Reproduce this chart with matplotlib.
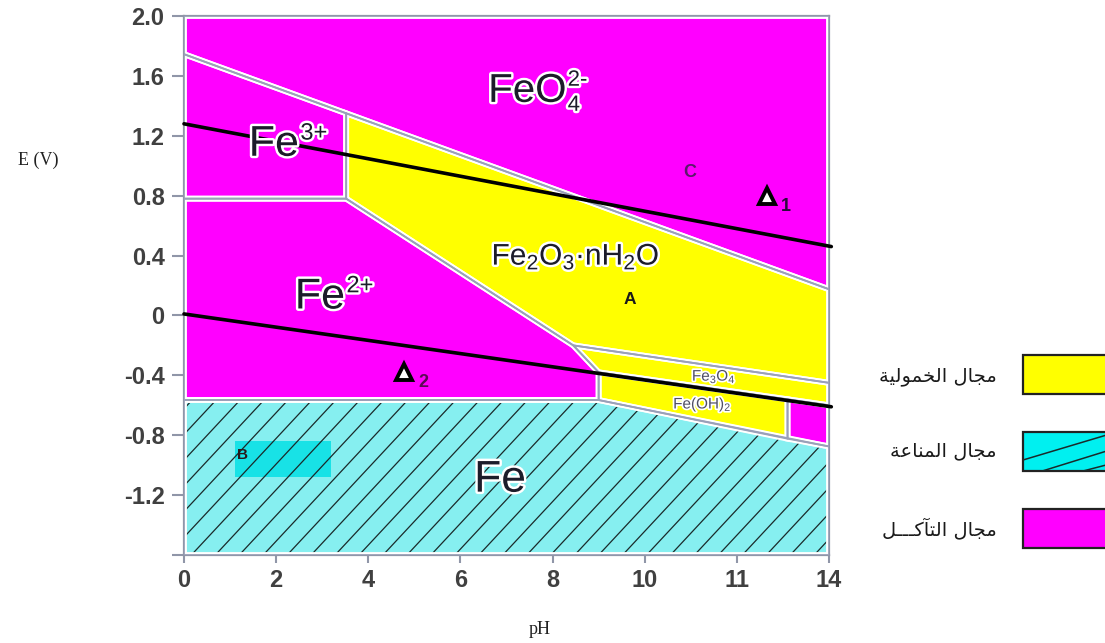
import numpy as np
import matplotlib
matplotlib.use("Agg")
import matplotlib.pyplot as plt
from matplotlib.patches import Polygon, Rectangle
from matplotlib.lines import Line2D
import matplotlib.patheffects as pe

plt.rcParams['mathtext.fontset'] = 'custom'
plt.rcParams['mathtext.rm'] = 'Liberation Sans'
plt.rcParams['mathtext.it'] = 'Liberation Sans'
plt.rcParams['mathtext.bf'] = 'Liberation Sans:bold'

# ---------------- data ----------------
ph_ticks = [0, 2, 4, 6, 8, 10, 12, 14]
ph_tick_labels = ['0', '2', '4', '6', '8', '10', '11', '14']
e_ticks = [2.0, 1.6, 1.2, 0.8, 0.4, 0.0, -0.4, -0.8, -1.2, -1.6]
e_tick_labels = ['2.0', '1.6', '1.2', '0.8', '0.4', '0', '-0.4', '-0.8', '-1.2', '']

# region polygons (pH, E)
feo4_region = [(0, 2.0), (14, 2.0), (14, 0.175), (0, 1.745)]
fe3_region = [(0, 1.745), (3.52, 1.35), (3.52, 0.78), (0, 0.78)]
fe2o3_region = [(3.52, 1.35), (14, 0.175), (14, -0.45), (8.45, -0.20), (3.52, 0.78)]
fe2_region = [(0, 0.78), (3.52, 0.78), (8.45, -0.20), (9.0, -0.38), (9.0, -0.565), (0, -0.565)]
fe3o4_region = [(8.45, -0.20), (14, -0.45), (14, -0.60), (9.0, -0.38)]
feoh2_region = [(9.0, -0.38), (13.1, -0.56), (13.1, -0.823), (9.0, -0.565)]
hfeo2_region = [(13.1, -0.56), (14, -0.60), (14, -0.875), (13.1, -0.823)]
fe_region = [(0, -0.565), (9.0, -0.565), (14, -0.875), (14, -1.6), (0, -1.6)]
b_box = [(1.1, -0.84), (3.2, -0.84), (3.2, -1.08), (1.1, -1.08)]

# water stability lines
water_ph = [0, 14.05]
water_upper = [1.28, 0.46]
water_lower = [0.01, -0.61]

# points
delta_ph = [12.65, 4.78]
delta_e = [0.80, -0.375]
delta_sub = ['1', '2']

legend_labels = ['مجال الخمولية', 'مجال المناعة', 'مجال التآكـــل']

# ---------------- helpers ----------------
_forms = {
    'ا': (0xFE8D, 0xFE8E, None, None),
    'آ': (0xFE81, 0xFE82, None, None),
    'ت': (0xFE95, 0xFE96, 0xFE97, 0xFE98),
    'ة': (0xFE93, 0xFE94, None, None),
    'ج': (0xFE9D, 0xFE9E, 0xFE9F, 0xFEA0),
    'خ': (0xFEA5, 0xFEA6, 0xFEA7, 0xFEA8),
    'ع': (0xFEC9, 0xFECA, 0xFECB, 0xFECC),
    'ك': (0xFED9, 0xFEDA, 0xFEDB, 0xFEDC),
    'ل': (0xFEDD, 0xFEDE, 0xFEDF, 0xFEE0),
    'م': (0xFEE1, 0xFEE2, 0xFEE3, 0xFEE4),
    'ن': (0xFEE5, 0xFEE6, 0xFEE7, 0xFEE8),
    'و': (0xFEED, 0xFEEE, None, None),
    'ي': (0xFEF1, 0xFEF2, 0xFEF3, 0xFEF4),
}
TATWEEL = 'ـ'


def _dual(c):
    return c == TATWEEL or (c in _forms and _forms[c][2] is not None)


def _joining(c):
    return c == TATWEEL or c in _forms


def shape_arabic(s):
    out = []
    for i, c in enumerate(s):
        if c not in _forms:
            out.append(c)
            continue
        prev = s[i - 1] if i > 0 else ''
        nxt = s[i + 1] if i + 1 < len(s) else ''
        jp = prev != '' and _dual(prev)
        jn = _forms[c][2] is not None and nxt != '' and _joining(nxt)
        iso, fin, ini, med = _forms[c]
        if jp and jn:
            code = med
        elif jp:
            code = fin
        elif jn:
            code = ini
        else:
            code = iso
        out.append(chr(code))
    return ''.join(reversed(out))


# ---------------- figure ----------------
fig = plt.figure(figsize=(11.05, 6.43), dpi=100)
ax = fig.add_axes([184 / 1105, 1 - 555 / 643, (829 - 184) / 1105, (555 - 16) / 643])
ax.set_xlim(0, 14)
ax.set_ylim(-1.6, 2.0)

MAG = '#ff00ff'
YEL = '#ffff00'
CYAN = '#86eff0'

regions = [
    (feo4_region, MAG), (fe3_region, MAG), (fe2o3_region, YEL), (fe2_region, MAG),
    (fe3o4_region, YEL), (feoh2_region, YEL), (hfeo2_region, MAG), (fe_region, CYAN),
]
for verts, col in regions:
    ax.add_patch(Polygon(verts, closed=True, facecolor=col, edgecolor='none', zorder=1))

ax.add_patch(Polygon(b_box, closed=True, facecolor='#18e2e6', edgecolor='none', zorder=1.5))

# hatch for Fe (immunity) region
fe_patch = Polygon(fe_region, closed=True, facecolor='none', edgecolor='none', transform=ax.transData)
ax.add_patch(fe_patch)
slope = 0.33
for x0 in np.arange(-4.0, 14.5, 0.52):
    ln, = ax.plot([x0, x0 + 2.2 / slope], [-1.6, 0.6], color='#1a2a2a', lw=0.9, zorder=2)
    ln.set_clip_path(fe_patch)

# boundaries
for verts, col in regions:
    ax.add_patch(Polygon(verts, closed=True, facecolor='none', edgecolor='white', lw=4.2, zorder=3))
for verts, col in regions:
    ax.add_patch(Polygon(verts, closed=True, facecolor='none', edgecolor='#9aa0b8', lw=1.3, zorder=3.1))

# water lines
ax.plot(water_ph, water_upper, color='black', lw=2.6, zorder=5, clip_on=False, solid_capstyle='round')
ax.plot(water_ph, water_lower, color='black', lw=2.6, zorder=5, clip_on=False, solid_capstyle='round')

# triangles
ax.plot(delta_ph, delta_e, linestyle='none', marker='^', ms=12, mfc='white', mec='black', mew=2.8, zorder=6)
sub_offsets = [(0.42, -0.07), (0.42, -0.075)]
for px, py, s, (dx, dy), c in zip(delta_ph, delta_e, delta_sub, sub_offsets, ['#2a0a3a', '#5a0a55']):
    ax.text(px + dx, py + dy, s, fontsize=13, fontweight='bold', color=c,
            family='Liberation Sans', ha='center', va='center', zorder=6)

# labels
stroke = [pe.withStroke(linewidth=3.5, foreground='white')]
big = dict(family='Liberation Sans', color='#1c1c2a', zorder=7, path_effects=stroke)


def ion_label(x, y, base, size, sup=None, sub=None):
    t = ax.text(x, y, base, fontsize=size, ha='center', va='center', **big)
    if sup:
        ax.annotate(sup, xy=(1.0, 0.78), xycoords=t, xytext=(1, 0), textcoords='offset points',
                    fontsize=size * 0.55, ha='left', va='center', **big)
    if sub:
        ax.annotate(sub, xy=(1.0, 0.12), xycoords=t, xytext=(1, 0), textcoords='offset points',
                    fontsize=size * 0.55, ha='left', va='center', **big)
    return t


ion_label(7.45, 1.50, 'FeO', 29, sup='2-', sub='4')
ion_label(1.95, 1.14, 'Fe', 31, sup='3+')
ion_label(2.95, 0.12, 'Fe', 31, sup='2+')
ion_label(6.86, -1.10, 'Fe', 32)
ax.text(8.5, 0.39, r'Fe$_2$O$_3$·nH$_2$O', fontsize=21.5, ha='center', va='center', **big)
small = dict(family='Liberation Sans', color='#505064', ha='center', va='center', zorder=7,
             path_effects=[pe.withStroke(linewidth=2.5, foreground='white')])
ax.text(11.5, -0.41, r'Fe$_3$O$_4$', fontsize=11, **small)
ax.text(11.25, -0.595, r'Fe(OH)$_2$', fontsize=11, **small)
ax.text(9.68, 0.105, 'A', fontsize=12.5, fontweight='bold', family='Liberation Sans',
        color='#1a1a1a', ha='center', va='center', zorder=7)
ax.text(10.98, 0.955, 'C', fontsize=13, fontweight='bold', family='Liberation Sans',
        color='#5a1a6a', ha='center', va='center', zorder=7)
ax.text(1.28, -0.93, 'B', fontsize=11, fontweight='bold', family='Liberation Sans',
        color='#2a1a1a', ha='center', va='center', zorder=7)

# axes styling
for sp in ax.spines.values():
    sp.set_color('#9096a8')
    sp.set_linewidth(1.6)
ax.set_xticks(ph_ticks)
ax.set_xticklabels(ph_tick_labels)
ax.set_yticks(e_ticks)
ax.set_yticklabels(e_tick_labels)
ax.tick_params(axis='y', direction='out', length=9, width=1.5, color='#9096a8', pad=5)
ax.tick_params(axis='x', direction='out', length=6, width=1.5, color='#9096a8', pad=4)
for lab in ax.get_xticklabels() + ax.get_yticklabels():
    lab.set_family('Liberation Sans')
    lab.set_fontweight('bold')
    lab.set_fontsize(17)
    lab.set_color('#404040')

fig.text(38 / 1105, 1 - 160 / 643, 'E (V)', family='Liberation Serif', fontsize=13,
         ha='center', va='center', color='#222222')
fig.text(540 / 1105, 1 - 630 / 643, 'pH', family='Liberation Serif', fontsize=13,
         ha='center', va='center', color='#222222')

# legend (drawn in figure pixels)
W, H = 1105, 643
leg_colors = [YEL, '#00f0f0', MAG]
leg_tops = [355, 432, 509]
leg_text_y = [377, 451, 528]
for lab, col, top, ty in zip(legend_labels, leg_colors, leg_tops, leg_text_y):
    rect = Rectangle((1023 / W, 1 - (top + 39) / H), 100 / W, 39 / H, transform=fig.transFigure,
                     facecolor=col, edgecolor='#222222', lw=1.6, zorder=5)
    fig.add_artist(rect)
    if col == '#00f0f0':
        for (x1, y1, x2, y2) in [(1023, top + 28, 1110, top + 2), (1023, top + 45, 1110, top + 18),
                                 (1060, top + 45, 1110, top + 32)]:
            l = Line2D([x1 / W, x2 / W], [1 - y1 / H, 1 - y2 / H], transform=fig.transFigure,
                       color='#1a2a2a', lw=1.1, zorder=6)
            l.set_clip_path(rect)
            fig.add_artist(l)
    fig.text(997 / W, 1 - ty / H, shape_arabic(lab), family='DejaVu Sans', fontsize=14,
             ha='right', va='center', color='#1a1a1a')

fig.savefig('out.png', dpi=100)
